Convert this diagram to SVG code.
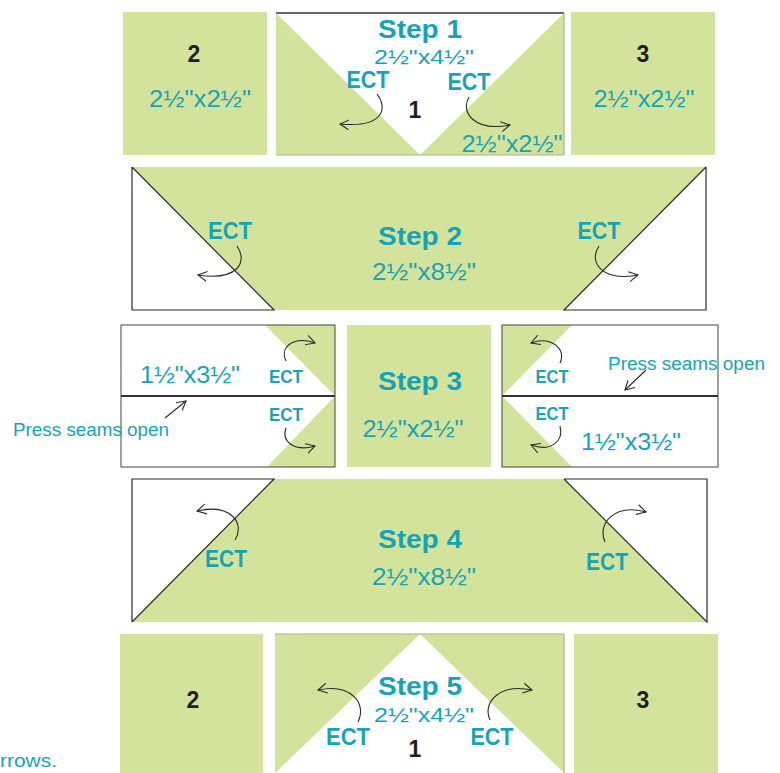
<svg xmlns="http://www.w3.org/2000/svg" width="780" height="773" viewBox="0 0 780 773">
<style>
.g{fill:#d4e39b}
.w{fill:#ffffff}
.ol{fill:none;stroke:#2b2b2b;stroke-width:1.2}
.ob{fill:none;stroke:#a9b48c;stroke-width:1.2}
.t{font-family:"Liberation Sans",Arial,sans-serif;fill:#17a3b6;text-anchor:middle}
.b{font-weight:bold}
.k{font-family:"Liberation Sans",Arial,sans-serif;font-weight:bold;fill:#1e1e1e;text-anchor:middle;font-size:23px}
.st{font-size:26px;font-weight:bold}
.st2{font-size:25px;font-weight:bold}
.dim{font-size:23px}
.dims{font-size:20px}
.ect{font-size:24px;font-weight:bold}
.ects{font-size:18px;font-weight:bold}
.ps{font-size:18px;text-anchor:start}
.ar{fill:none;stroke:#2b2b2b;stroke-width:1.1;marker-end:url(#ah)}
</style>
<defs>
<marker id="ah" markerUnits="userSpaceOnUse" markerWidth="12" markerHeight="12" refX="9" refY="5" orient="auto" viewBox="0 0 12 10">
<path d="M0,0 L9,5 L0,10" fill="none" stroke="#2b2b2b" stroke-width="1.1"/>
</marker>
</defs>
<rect width="780" height="773" fill="#ffffff"/>

<!-- Step 1 row -->
<g id="sq2-top">
<rect class="g" x="123" y="12" width="144" height="143"/>
<text class="k" x="194" y="62">2</text>
<text class="t dim" x="200" y="107" textLength="102" lengthAdjust="spacingAndGlyphs">2½"x2½"</text>
</g>
<g id="step1">
<rect class="w" x="276" y="13" width="288" height="142"/>
<polygon class="g" points="276,13 420,155 276,155"/>
<polygon class="g" points="564,13 564,155 420,155"/>
<line x1="276" y1="13" x2="564" y2="13" stroke="#333" stroke-width="1.4"/>
<polyline class="ob" points="564,13 564,155 276,155"/>
<text class="t st2" x="420" y="38" textLength="84" lengthAdjust="spacingAndGlyphs">Step 1</text>
<text class="t dims" x="424" y="64" textLength="100" lengthAdjust="spacingAndGlyphs">2½"x4½"</text>
<text class="t ect" x="368" y="88" textLength="43" lengthAdjust="spacingAndGlyphs">ECT</text>
<text class="t ect" x="469" y="90" textLength="43" lengthAdjust="spacingAndGlyphs">ECT</text>
<text class="k" x="415" y="118">1</text>
<text class="t dim" x="512" y="152" textLength="101" lengthAdjust="spacingAndGlyphs">2½"x2½"</text>
</g>
<g id="sq3-top">
<rect class="g" x="571" y="12" width="144" height="143"/>
<text class="k" x="643" y="62">3</text>
<text class="t dim" x="644" y="107" textLength="101" lengthAdjust="spacingAndGlyphs">2½"x2½"</text>
</g>

<!-- Step 2 row -->
<g id="step2">
<rect class="g" x="132" y="167" width="574" height="143"/>
<polygon class="w" points="132,167 274,310 132,310"/>
<polygon class="w" points="706,167 706,310 564,310"/>
<polyline class="ol" points="132,167 132,310 274,310 132,167"/>
<polyline class="ol" points="706,167 706,310 564,310 706,167"/>
<text class="t ect" x="230" y="239" textLength="44" lengthAdjust="spacingAndGlyphs">ECT</text>
<text class="t st" x="420" y="245" textLength="84" lengthAdjust="spacingAndGlyphs">Step 2</text>
<text class="t dim" x="424" y="280" textLength="104" lengthAdjust="spacingAndGlyphs">2½"x8½"</text>
<text class="t ect" x="599" y="239" textLength="43" lengthAdjust="spacingAndGlyphs">ECT</text>
</g>

<!-- Step 3 row -->
<g id="step3-left">
<rect class="w" x="121" y="325" width="214" height="142"/>
<polygon class="g" points="265,325 335,325 335,396"/>
<polygon class="g" points="335,396 335,467 267,467"/>
<rect x="121" y="325" width="214" height="142" fill="none" stroke="#444" stroke-width="1"/>
<line x1="121" y1="396" x2="335" y2="396" stroke="#333" stroke-width="1.8"/>
<text class="t dim" x="190" y="383" textLength="100" lengthAdjust="spacingAndGlyphs">1½"x3½"</text>
<text class="t ects" x="286" y="383" textLength="34" lengthAdjust="spacingAndGlyphs">ECT</text>
<text class="t ects" x="286" y="421" textLength="34" lengthAdjust="spacingAndGlyphs">ECT</text>
<text class="t ps" x="13" y="436" textLength="156" lengthAdjust="spacingAndGlyphs">Press seams open</text>
</g>
<g id="step3-mid">
<rect class="g" x="347" y="325" width="144" height="142"/>
<text class="t st" x="420" y="390" textLength="84" lengthAdjust="spacingAndGlyphs">Step 3</text>
<text class="t dim" x="413" y="437" textLength="101" lengthAdjust="spacingAndGlyphs">2½"x2½"</text>
</g>
<g id="step3-right">
<rect class="w" x="502" y="325" width="216" height="142"/>
<polygon class="g" points="502,325 572,325 502,396"/>
<polygon class="g" points="502,396 572,467 502,467"/>
<rect x="502" y="325" width="216" height="142" fill="none" stroke="#444" stroke-width="1"/>
<line x1="502" y1="396" x2="718" y2="396" stroke="#333" stroke-width="1.8"/>
<text class="t ects" x="552" y="383" textLength="33" lengthAdjust="spacingAndGlyphs">ECT</text>
<text class="t ects" x="552" y="420" textLength="33" lengthAdjust="spacingAndGlyphs">ECT</text>
<text class="t ps" x="608" y="370" textLength="157" lengthAdjust="spacingAndGlyphs">Press seams open</text>
<text class="t dim" x="631" y="450" textLength="100" lengthAdjust="spacingAndGlyphs">1½"x3½"</text>
</g>

<!-- Step 4 row -->
<g id="step4">
<rect class="g" x="132" y="479" width="575" height="143"/>
<polygon class="w" points="132,479 274,479 132,622"/>
<polygon class="w" points="564,479 707,479 707,622"/>
<polyline class="ol" points="132,622 132,479 274,479 132,622"/>
<polyline class="ol" points="564,479 707,479 707,622 564,479"/>
<text class="t ect" x="226" y="567" textLength="42" lengthAdjust="spacingAndGlyphs">ECT</text>
<text class="t st" x="420" y="548" textLength="84" lengthAdjust="spacingAndGlyphs">Step 4</text>
<text class="t dim" x="424" y="585" textLength="104" lengthAdjust="spacingAndGlyphs">2½"x8½"</text>
<text class="t ect" x="607" y="570" textLength="42" lengthAdjust="spacingAndGlyphs">ECT</text>
</g>

<!-- Step 5 row -->
<g id="sq2-bottom">
<rect class="g" x="120" y="634" width="143" height="140"/>
<text class="k" x="193" y="708">2</text>
</g>
<g id="step5">
<rect class="w" x="275" y="634" width="289" height="140"/>
<polygon class="g" points="275,634 420,634 275,773"/>
<polygon class="g" points="420,634 564,634 564,773"/>
<polyline class="ob" points="275,634 564,634 564,773"/>
<text class="t st2" x="420" y="695" textLength="84" lengthAdjust="spacingAndGlyphs">Step 5</text>
<text class="t dims" x="424" y="722" textLength="100" lengthAdjust="spacingAndGlyphs">2½"x4½"</text>
<text class="t ect" x="348" y="745" textLength="44" lengthAdjust="spacingAndGlyphs">ECT</text>
<text class="t ect" x="492" y="745" textLength="43" lengthAdjust="spacingAndGlyphs">ECT</text>
<text class="k" x="415" y="757">1</text>
</g>
<g id="sq3-bottom">
<rect class="g" x="574" y="634" width="144" height="140"/>
<text class="k" x="643" y="708">3</text>
</g>
<text class="t ps" x="0" y="767" font-size="19" textLength="57" lengthAdjust="spacingAndGlyphs">rrows.</text>

<!-- connectors -->
<g id="connectors">
<path class="ar" d="M377,94 C388,108 384,128 340,124"/>
<path class="ar" d="M469,97 C460,112 474,132 510,125"/>
<path class="ar" d="M237,246 C248,262 238,281 198,275"/>
<path class="ar" d="M599,246 C588,262 602,282 638,275"/>
<path class="ar" d="M286,361 C279,346 295,336 315,343"/>
<path class="ar" d="M286,428 C281,442 295,452 315,446"/>
<path class="ar" d="M560,363 C567,348 550,336 531,343"/>
<path class="ar" d="M560,426 C564,442 550,452 531,445"/>
<path class="ar" d="M165,418 L186,401"/>
<path class="ar" d="M646,370 L625,390"/>
<path class="ar" d="M235,540 C245,524 232,503 197,511"/>
<path class="ar" d="M605,542 C597,524 614,503 646,512"/>
<path class="ar" d="M358,722 C367,704 352,683 318,690"/>
<path class="ar" d="M490,720 C482,703 499,683 532,690"/>
</g>
</svg>
